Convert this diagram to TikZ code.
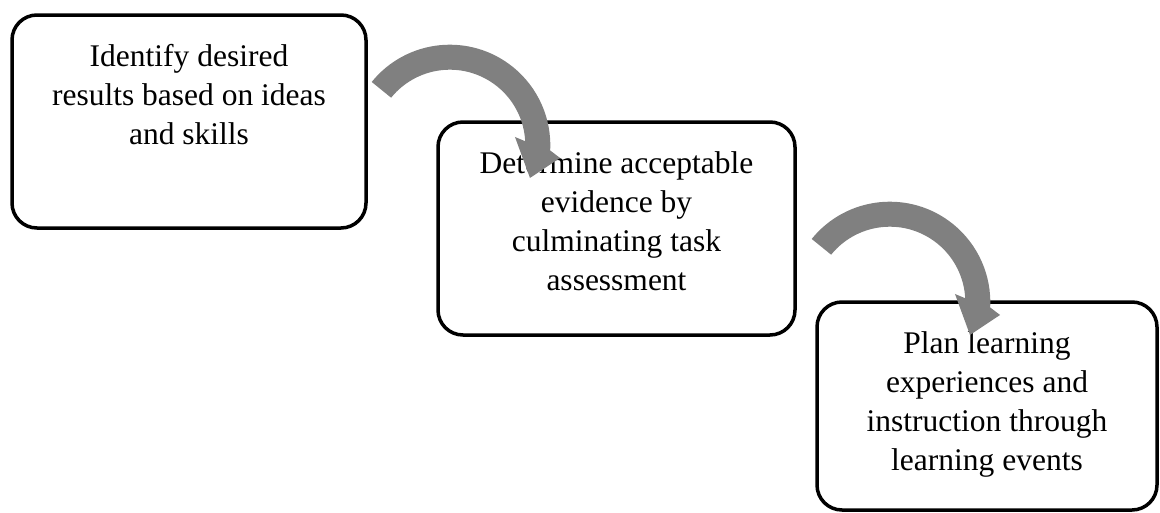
\documentclass[tikz,border=0pt]{standalone}
\usepackage{fontspec}
\setmainfont{Liberation Serif}
\usetikzlibrary{calc}
\definecolor{arrowgray}{HTML}{808080}
\tikzset{
  stepbox/.style={draw=black, line width=3.5pt, rounded corners=25pt, fill=white, inner sep=0pt},
  steptext/.style={align=center, inner sep=0pt, anchor=north,
    font=\fontsize{31.5}{39}\selectfont},
  % thick curved block arrow turning clockwise around its centre
  pics/bentarrow/.style={code={
    \fill[arrowgray]
      (141:100.5pt) arc[start angle=141, end angle=-3, radius=100.5pt]
      -- (-6.6:111pt) -- (-22.2:86.6pt) -- (7.2:65.7pt) -- (3:75.5pt)
      arc[start angle=3, end angle=141, radius=75.5pt] -- cycle;
  }}
}
\begin{document}
\begin{tikzpicture}[x=1pt, y=-1pt]
  \useasboundingbox (0,0) rectangle (1160,512);

  % the three steps
  \node[stepbox, minimum width=354pt, minimum height=213pt] (b1) at (189,121.5) {};
  \node[stepbox, minimum width=357pt, minimum height=213pt] (b2) at (616.5,228.5) {};
  \node[stepbox, minimum width=340pt, minimum height=208pt] (b3) at (987,406) {};

  \node[steptext] (t1) at ($(b1.north)+(0,25.7)$)
    {\strut Identify desired\\results based on ideas\\and skills};
  \node[steptext] (t2) at ($(b2.north)+(0,25.7)$)
    {\strut Determine acceptable\\evidence by\\culminating task\\assessment};
  \node[steptext] (t3) at ($(b3.north)+(0,25.7)$)
    {\strut Plan learning\\experiences and\\instruction through\\learning events};

  % curved arrows leading from one step to the next
  \coordinate (c12) at (449.8,145.2);
  \coordinate (c23) at (889.8,302.2);
  \pic at (c12) {bentarrow};
  \pic at (c23) {bentarrow};
\end{tikzpicture}
\end{document}
